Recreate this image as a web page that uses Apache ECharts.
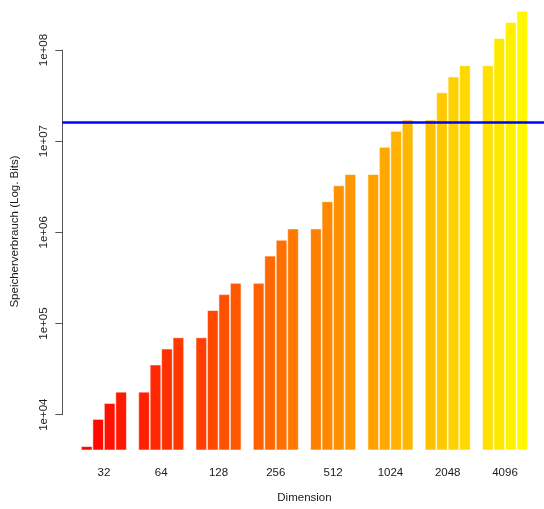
<!DOCTYPE html>
<html>
<head>
<meta charset="utf-8">
<script src="https://cdn.jsdelivr.net/npm/echarts@6/dist/echarts.min.js"></script>
<style>
  html, body { margin: 0; padding: 0; background: #ffffff; }
  #chart { width: 544px; height: 509px; }
</style>
</head>
<body>
<div id="chart"></div>
<script>
// Matrix dimension groups shown along the x axis
var dimensions = ['32', '64', '128', '256', '512', '1024', '2048', '4096'];

// Memory use in bits, four variants per dimension
var memoryA = [4096, 16384, 65536, 262144, 1048576, 4194304, 16777216, 67108864];
var memoryB = [8192, 32768, 131072, 524288, 2097152, 8388608, 33554432, 134217728];
var memoryC = [12288, 49152, 196608, 786432, 3145728, 12582912, 50331648, 201326592];
var memoryD = [16384, 65536, 262144, 1048576, 4194304, 16777216, 67108864, 268435456];

// Memory limit drawn as a horizontal reference line
var memoryLimit = 16000000;

// Labelled decades on the log axis
var tickValues = [1e4, 1e5, 1e6, 1e7, 1e8];

var seriesValues = [memoryA, memoryB, memoryC, memoryD];

// Red-to-yellow ramp, one shade per bar in drawing order
function barColor(groupIdx, barIdx) {
  var k = groupIdx * 4 + barIdx;
  var g = Math.round(k * 8);
  var hex = g.toString(16);
  if (hex.length < 2) hex = '0' + hex;
  return '#ff' + hex + '00';
}

function sciLabel(v) {
  var e = Math.round(Math.log(v) / Math.LN10);
  var s = String(Math.abs(e));
  if (s.length < 2) s = '0' + s;
  return '1e' + (e < 0 ? '-' : '+') + s;
}

var textColor = '#1a1a1a';
var fontFamily = '"Liberation Sans", Arial, Helvetica, sans-serif';

var barSeries = seriesValues.map(function (vals, b) {
  return {
    type: 'bar',
    xAxisIndex: 0,
    yAxisIndex: 0,
    barGap: '0%',
    barCategoryGap: '20%',
    z: 2,
    silent: true,
    data: vals.map(function (v, g) {
      return {
        value: v,
        itemStyle: {
          color: barColor(g, b),
          borderColor: 'rgba(255,255,255,0.7)',
          borderWidth: 0.8
        }
      };
    })
  };
});

var option = {
  backgroundColor: '#ffffff',
  animation: false,
  textStyle: { fontFamily: fontFamily, color: textColor },
  grid: [
    // plotting area for the bars
    { left: 75.27, right: 10.33, top: 4.4, bottom: 55.1 },
    // area spanned by the labelled y axis and the limit line
    { left: 62.3, right: 0, top: 50, bottom: 94.32 }
  ],
  xAxis: [
    {
      gridIndex: 0,
      type: 'category',
      data: dimensions,
      axisLine: { show: false },
      axisTick: { show: false },
      axisLabel: {
        margin: 17,
        fontSize: 11.5,
        color: textColor,
        fontFamily: fontFamily
      },
      name: 'Dimension',
      nameLocation: 'middle',
      nameGap: 42,
      nameTextStyle: { fontSize: 11.5, color: textColor, fontFamily: fontFamily }
    },
    {
      gridIndex: 1,
      type: 'value',
      min: 0,
      max: 1,
      show: false
    }
  ],
  yAxis: [
    {
      gridIndex: 0,
      type: 'log',
      logBase: 10,
      min: Math.pow(10, 3.57),
      max: Math.pow(10, 8.5),
      axisLine: { show: false },
      axisTick: { show: false },
      axisLabel: { show: false },
      splitLine: { show: false }
    },
    {
      gridIndex: 1,
      type: 'log',
      logBase: 10,
      min: tickValues[0],
      max: tickValues[tickValues.length - 1],
      splitNumber: 4,
      axisLine: { show: true, lineStyle: { color: '#555555', width: 1 } },
      axisTick: { show: true, length: 7, lineStyle: { color: '#555555', width: 1 } },
      axisLabel: {
        rotate: 90,
        margin: 12,
        fontSize: 11.5,
        color: textColor,
        fontFamily: fontFamily,
        formatter: sciLabel
      },
      splitLine: { show: false }
    }
  ],
  graphic: [
    {
      type: 'text',
      x: 15,
      y: 231.5,
      rotation: Math.PI / 2,
      style: {
        text: 'Speicherverbrauch (Log. Bits)',
        fill: textColor,
        font: '11.5px ' + fontFamily,
        textAlign: 'center',
        textVerticalAlign: 'middle'
      }
    }
  ],
  series: barSeries.concat([
    {
      type: 'line',
      xAxisIndex: 1,
      yAxisIndex: 1,
      z: 5,
      silent: true,
      showSymbol: false,
      lineStyle: { color: '#0000ff', width: 2.5 },
      data: [[0, memoryLimit], [1, memoryLimit]]
    }
  ])
};

var chart = echarts.init(document.getElementById('chart'), null, { renderer: 'canvas' });
chart.setOption(option);
</script>
</body>
</html>
